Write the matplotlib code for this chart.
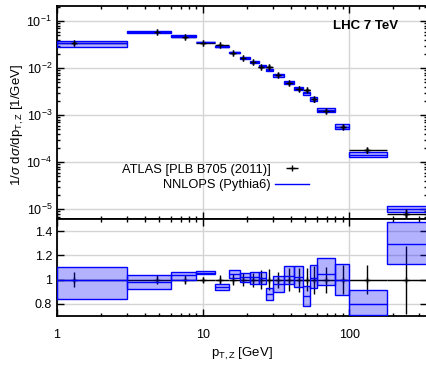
import numpy as np
import matplotlib
matplotlib.use("Agg")
from matplotlib import pyplot as plt
from matplotlib.ticker import FixedLocator, FormatStrFormatter, NullFormatter, LogLocator

plt.rcParams['font.family'] = ['Liberation Sans', 'DejaVu Sans']
plt.rcParams['mathtext.fontset'] = 'custom'
plt.rcParams['mathtext.rm'] = 'Liberation Sans'
plt.rcParams['mathtext.it'] = 'Liberation Sans:italic'
plt.rcParams['font.size'] = 9

# bin edges in pT,Z [GeV] (first bin starts at axis edge)
edges = [1, 3, 6, 9, 12, 15, 18, 21, 24, 27, 30, 36, 42, 48, 54, 60, 80, 100, 180, 350]
# ATLAS points
x_atlas = [1.3, 4.8, 7.5, 10.0, 13.0, 16.0, 18.8, 22.0, 25.0, 28.2, 32.6, 38.6,
           45.3, 51.5, 57.5, 69.0, 90.0, 132.0, 246.0]
atlas = [0.0340, 0.0595, 0.0465, 0.0342, 0.0305, 0.0209, 0.0164, 0.0132, 0.0108,
         0.0105, 0.0073, 0.0049, 0.00364, 0.00337, 0.00219, 0.00123, 0.00057,
         0.00018, 7.8e-6]
atlas_relerr = [0.06, 0.035, 0.04, 0.02, 0.035, 0.047, 0.056, 0.057, 0.076, 0.088,
                0.067, 0.094, 0.10, 0.095, 0.115, 0.108, 0.12, 0.12, 0.28]
# NNLOPS / ATLAS: central value and band
r_cen = [1.0, 0.98, 1.035, 1.057, 0.94, 1.043, 1.018, 1.023, 1.015, 0.885, 0.962,
         1.03, 1.023, 0.862, 1.01, 1.05, 1.0, 0.80, 1.29]
r_lo = [0.843, 0.92, 1.0, 1.043, 0.918, 1.01, 0.977, 0.968, 0.96, 0.835, 0.90,
        0.96, 0.94, 0.785, 0.927, 0.954, 0.877, 0.71, 1.13]
r_hi = [1.107, 1.035, 1.065, 1.073, 0.96, 1.077, 1.057, 1.065, 1.065, 0.935, 1.03,
        1.115, 1.115, 0.946, 1.12, 1.177, 1.127, 0.918, 1.477]

edges = np.array(edges, dtype=float)
lo_e, hi_e = edges[:-1], edges[1:]
x_atlas = np.array(x_atlas)
atlas = np.array(atlas)
err = atlas * np.array(atlas_relerr)
r_cen, r_lo, r_hi = np.array(r_cen), np.array(r_lo), np.array(r_hi)
nn_cen, nn_lo, nn_hi = atlas * r_cen, atlas * r_lo, atlas * r_hi

fill = (0.0, 0.0, 1.0, 0.3)
fig = plt.figure(figsize=(4.27, 3.65), dpi=100)
ax = fig.add_axes([0.1335, 0.4, 0.8665, 0.5836])
axr = fig.add_axes([0.1335, 0.1342, 0.8665, 0.2658])

for a in (ax, axr):
    a.set_xscale('log')
    a.set_xlim(1, 340)
    a.grid(which='major', color='#d4d4d4', lw=1.0)
    a.set_axisbelow(True)
    a.tick_params(which='both', direction='in', top=True, right=True, width=1)
    a.tick_params(which='major', length=5)
    a.tick_params(which='minor', length=2.5)
    for s in a.spines.values():
        s.set_linewidth(1.3)

# top panel
ax.set_yscale('log')
ax.set_ylim(6.2e-6, 0.21)
ax.errorbar(x_atlas, atlas, yerr=err, xerr=[x_atlas - lo_e, hi_e - x_atlas],
            fmt='+', color='black', ms=5, lw=1, capsize=0, zorder=2)
ax.bar(lo_e, nn_hi - nn_lo, bottom=nn_lo, width=hi_e - lo_e, align='edge',
       color=fill, edgecolor='blue', lw=1, zorder=3)
ax.hlines(nn_cen, lo_e, hi_e, color='blue', lw=1, zorder=3)
ax.errorbar(x_atlas, atlas, yerr=err, fmt='+', color='black', ms=5, lw=1,
            capsize=0, zorder=4)
ax.xaxis.set_major_formatter(NullFormatter())
ax.xaxis.set_minor_formatter(NullFormatter())
ax.yaxis.set_minor_locator(LogLocator(subs=np.arange(2, 10)))
ax.yaxis.set_minor_formatter(NullFormatter())

h_data = ax.errorbar([], [], xerr=[], fmt='+', color='black', ms=5, lw=1)
h_nn, = ax.plot([], [], color='blue', lw=1)
ax.legend([h_data, h_nn], ['ATLAS [PLB B705 (2011)]', 'NNLOPS (Pythia6)'],
          loc='center right', bbox_to_anchor=(0.698, 0.195), frameon=False,
          markerfirst=False, handlelength=2.6, labelspacing=0.3, fontsize=9.3,
          borderpad=0, handletextpad=0.35)
ax.text(0.922, 0.905, 'LHC 7 TeV', transform=ax.transAxes, ha='right', va='center',
        fontsize=9.5, fontweight='bold')

# ratio panel
axr.set_ylim(0.7, 1.5)
axr.errorbar(x_atlas, np.ones_like(x_atlas), yerr=np.array(atlas_relerr),
             xerr=[x_atlas - lo_e, hi_e - x_atlas], fmt='+', color='black',
             ms=5, lw=1, capsize=0, zorder=2)
axr.bar(lo_e, r_hi - r_lo, bottom=r_lo, width=hi_e - lo_e, align='edge',
        color=fill, edgecolor='blue', lw=1, zorder=3)
axr.hlines(r_cen, lo_e, hi_e, color='blue', lw=1, zorder=3)
axr.yaxis.set_major_locator(FixedLocator([0.8, 1.0, 1.2, 1.4]))
axr.yaxis.set_major_formatter(FormatStrFormatter('%g'))
axr.xaxis.set_major_formatter(FormatStrFormatter('%g'))
axr.xaxis.set_minor_formatter(NullFormatter())
axr.tick_params(axis='x', which='major', pad=9)

fig.text(18 / 427, 1 - 125 / 365, r'1/$\sigma$ d$\sigma$/dp$_{\mathrm{T,Z}}$ [1/GeV]',
         rotation=90, ha='center', va='center', fontsize=9.5)
fig.text(242 / 427, 1 - 354 / 365, r'p$_{\mathrm{T,Z}}$ [GeV]', ha='center',
         va='center', fontsize=9.5)

fig.savefig('out.png', dpi=100)
